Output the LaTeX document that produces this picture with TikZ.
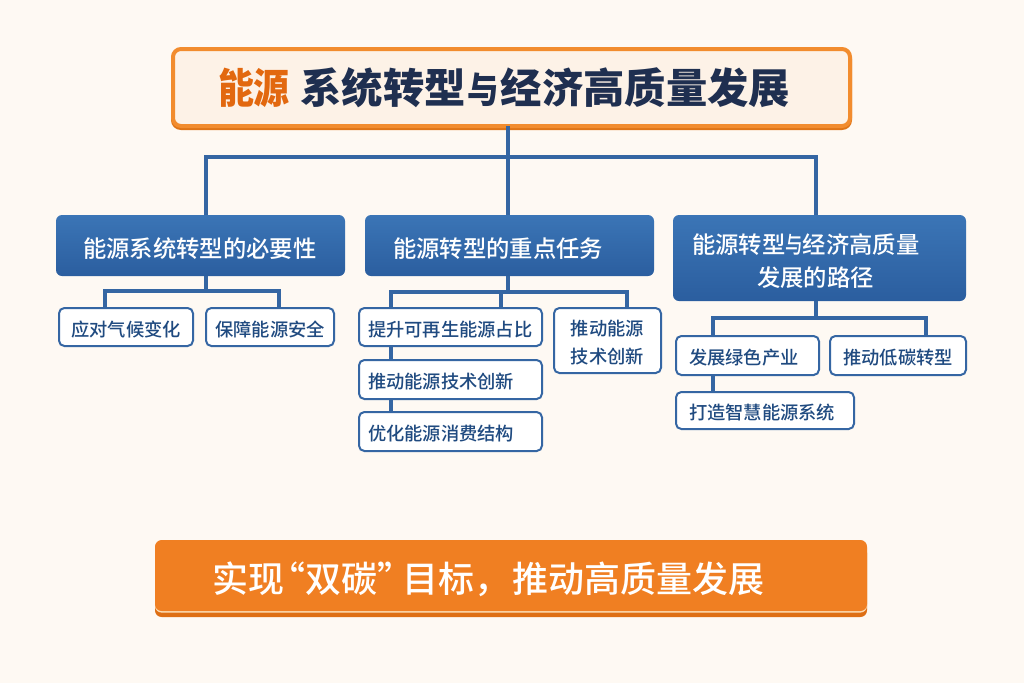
\documentclass[tikz,border=0pt]{standalone}
\usepackage{graphicx}
\usepackage{fontspec}
\setmainfont{Noto Sans CJK SC}
\newfontfamily\medfont{Noto Sans CJK SC Medium}
\usetikzlibrary{positioning}

\definecolor{pagebg}{HTML}{FEF9F3}
\definecolor{navy}{HTML}{1F2F50}
\definecolor{titleorange}{HTML}{E2680F}
\definecolor{titleline}{HTML}{F28C2E}
\definecolor{titlelip}{HTML}{DF7416}
\definecolor{titlefill}{HTML}{FDF2E7}
\definecolor{linkblue}{HTML}{3566A3}
\definecolor{headtop}{HTML}{3B75B6}
\definecolor{headbot}{HTML}{2B5E9F}
\definecolor{leaftext}{HTML}{1F4A80}
\definecolor{goalfill}{HTML}{F07F22}
\definecolor{goallip}{HTML}{DE6F14}
\definecolor{goalrim}{HTML}{FCDDB5}

\begin{document}
\begin{tikzpicture}[x=0.75pt,y=-0.75pt]
	\tikzstyle{titlebox}=[draw=titleline,line width=3pt,fill=titlefill,rounded corners=6pt,outer sep=0pt,
		preaction={draw=titlelip,transform canvas={yshift=-1.5pt}},
		minimum height=57.75pt,text width=440.25pt,inner xsep=33.75pt,inner ysep=0pt,align=left,
		font=\fontsize{31}{36}\selectfont\bfseries,text=navy]
	\tikzstyle{headbox}=[top color=headtop,bottom color=headbot,rounded corners=4.5pt,outer sep=0pt,
		minimum height=45.75pt,inner ysep=0pt,align=left,
		execute at begin node={\rule{0pt}{20pt}},
		font=\fontsize{17.5}{24.75}\selectfont\medfont,text=white]
	\tikzstyle{leafbox}=[draw=linkblue,line width=1.5pt,fill=white,rounded corners=4pt,outer sep=0pt,
		minimum height=28.5pt,inner xsep=6pt,inner ysep=0pt,align=center,
		execute at begin node={\rule{0pt}{15pt}},
		font=\fontsize{13.7}{21}\selectfont\medfont,text=leaftext]
	\tikzstyle{goalbox}=[fill=goalfill,rounded corners=5pt,outer sep=0pt,
		preaction={fill=goallip,transform canvas={yshift=-4.5pt}},
		preaction={fill=goalrim,transform canvas={yshift=-1.2pt}},
		minimum height=53.25pt,text width=448.5pt,inner xsep=42.75pt,inner ysep=0pt,align=left,
		execute at begin node={\rule{0pt}{28.5pt}},
		font=\fontsize{27}{32}\selectfont\medfont,text=white]
	\tikzstyle{link}=[draw=linkblue,line width=3pt,line join=miter]

	\fill[pagebg] (0,0) rectangle (1024,683);

	\node[titlebox] (T) at (511.5,87.5) {{\color{titleorange}\scalebox{0.87}[1]{能源}}\kern8pt系统转型\kern1.5pt\scalebox{0.76}[0.88]{与}\kern1pt经济高质量发展};

	\node[headbox,text width=176.25pt,inner xsep=20.25pt] (A) at (200.5,245.5) {能源系统转型的必要性};
	\node[headbox,text width=174.75pt,inner xsep=21pt] (B) [right = 15pt of A] {能源转型的重点任务};
	\node[headbox,text width=191.25pt,inner xsep=14.25pt,minimum height=64.5pt] (C) [right = 14.25pt of B.north east,anchor=north west] {能源转型\scalebox{0.75}[1]{与}经济高质量\\\hspace*{48.75pt}发展的路径};

	\node[leafbox,text width=88.5pt] (A1) [below right = 24pt and 2.25pt of A.south west] {应对气候变化};
	\node[leafbox,text width=84pt] (A2) [right = 9.75pt of A1] {保障能源安全};

	\node[leafbox,text width=123.75pt,inner xsep=6.75pt,align=left] (B1) [below right = 24pt and -4.5pt of B.south west] {提升可再生能源占比};
	\node[leafbox,text width=123.75pt,inner xsep=6.75pt,align=left,minimum height=29.25pt] (B2) [below = 10.5pt of B1] {推动能源技术创新};
	\node[leafbox,text width=123.75pt,inner xsep=6.75pt,align=left,minimum height=29.25pt] (B3) [below = 9.75pt of B2] {优化能源消费结构};
	\node[leafbox,text width=68.25pt,minimum height=48.75pt] (B4) [right = 9pt of B1.north east,anchor=north west] {推动能源\\技术创新};

	\node[leafbox,text width=87.75pt,inner xsep=9.75pt,align=left,minimum height=29.25pt] (C1) [below right = 26.25pt and 2.25pt of C.south west] {发展绿色产业};
	\node[leafbox,text width=90pt,minimum height=29.25pt] (C2) [right = 8.25pt of C1] {推动低碳转型};
	\node[leafbox,text width=114pt,inner xsep=9.75pt,align=left,minimum height=27.75pt] (C3) [below right = 12.75pt and 0pt of C1.south west] {打造智慧能源系统};

	\node[goalbox] (G) at (511,575.5) {实现\kern-11pt“双碳”\kern-8pt目标，\kern1.5pt推动高质量发展};

	% top level
	\coordinate (busT) at (508,157);
	\coordinate (busL) at (206,157);
	\coordinate (busR) at (816,157);
	\draw[link] (busT |- T.south) -- (busT |- B.north);
	\draw[link] (busL |- A.north) -- (busL) -- (busR) -- (busR |- C.north);

	% first column
	\coordinate (busA1) at (105,291);
	\coordinate (busA2) at (279,291);
	\draw[link] (busL |- A.south) -- (busL |- busA1);
	\draw[link] (busA1 |- A1.north) -- (busA1) -- (busA2) -- (busA2 |- A2.north);

	% second column
	\coordinate (busB1) at (391,292);
	\coordinate (busB2) at (501,292);
	\coordinate (busB3) at (627,292);
	\draw[link] (busT |- B.south) -- (busT |- busB1);
	\draw[link] (busB1 |- B1.north) -- (busB1) -- (busB3) -- (busB3 |- B4.north);
	\draw[link] (busB2) -- (busB2 |- B1.north);
	\draw[link] (busB1 |- B1.south) -- (busB1 |- B2.north);
	\draw[link] (busB1 |- B2.south) -- (busB1 |- B3.north);

	% third column
	\coordinate (busC1) at (713,318);
	\coordinate (busC2) at (926,318);
	\draw[link] (busR |- C.south) -- (busR |- busC1);
	\draw[link] (busC1 |- C1.north) -- (busC1) -- (busC2) -- (busC2 |- C2.north);
	\draw[link] (busC1 |- C1.south) -- (busC1 |- C3.north);
\end{tikzpicture}
\end{document}
